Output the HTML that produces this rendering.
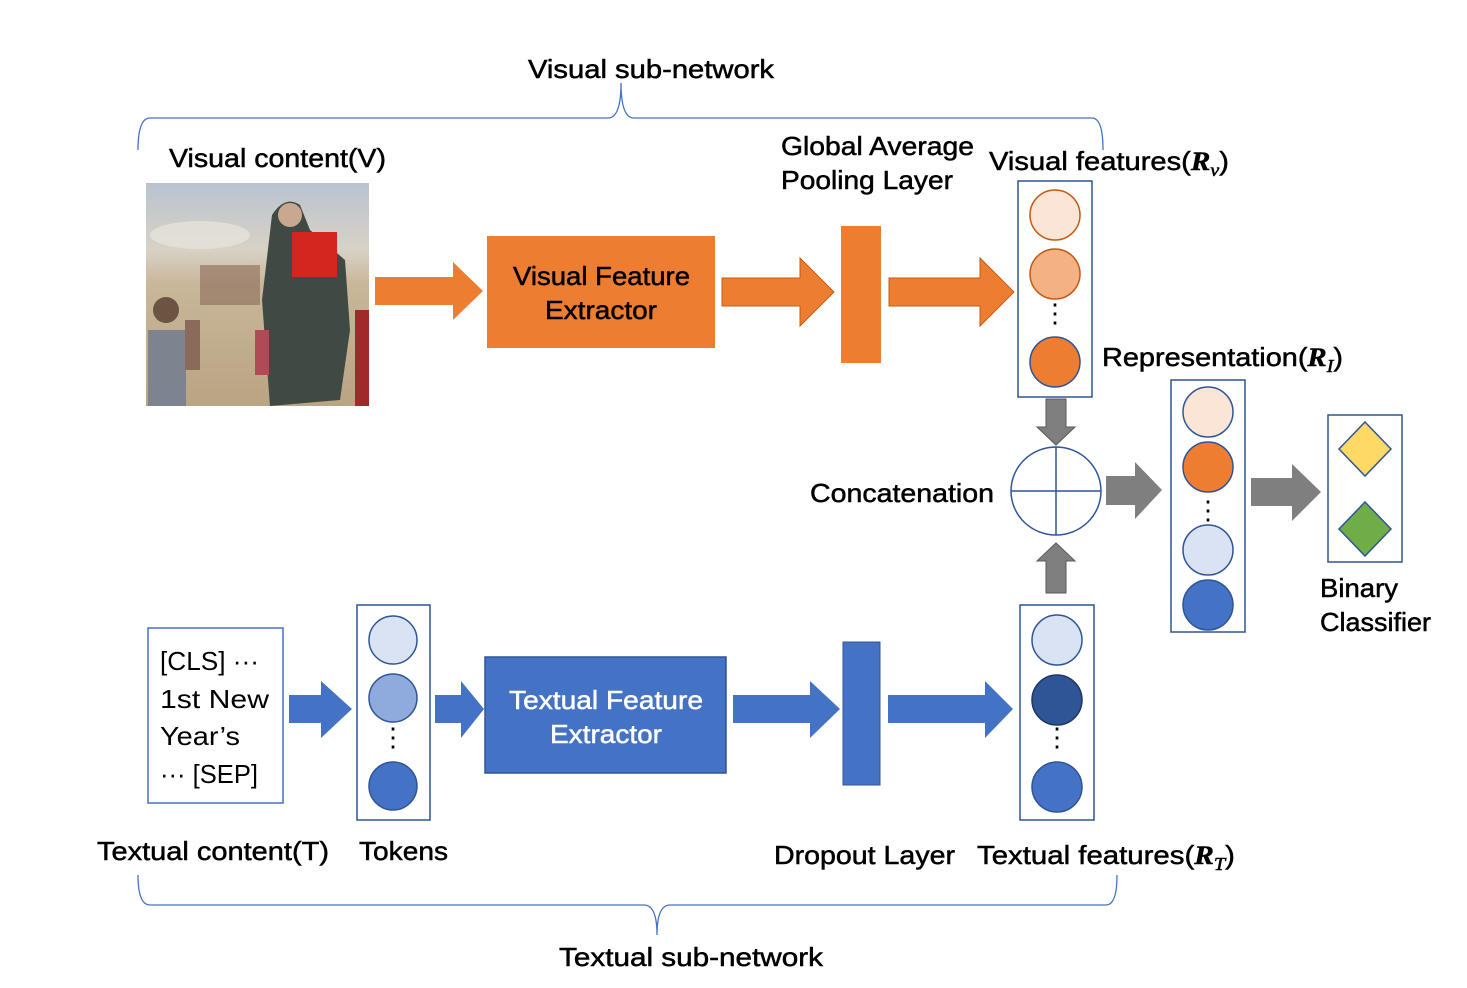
<!DOCTYPE html>
<html><head><meta charset="utf-8"><style>
html,body{margin:0;padding:0;background:#fff;}
svg{display:block;}
text{font-family:"Liberation Sans","Noto Sans CJK SC",sans-serif;font-size:26px;fill:#000;stroke:#000;stroke-width:0.5px;}
.n{stroke:none;}
</style></head><body>
<svg width="1467" height="988" viewBox="0 0 1467 988" xmlns="http://www.w3.org/2000/svg">
<defs>
<linearGradient id="sky" x1="0" y1="0" x2="0" y2="1">
<stop offset="0" stop-color="#b9c3cf"/><stop offset="0.3" stop-color="#d8d2c6"/><stop offset="0.45" stop-color="#c9b79a"/><stop offset="1" stop-color="#b9a483"/>
</linearGradient>
</defs>
<path d="M138,150 Q138,118 150,118 L608,118 Q621,118 621,83 Q621,118 634,118 L1092,118 Q1103,118 1103,150" fill="none" stroke="#4472C4" stroke-width="1.3"/>
<path d="M138,875 Q138,905 150,905 L644,905 Q657,905 657,935 Q657,905 670,905 L1106,905 Q1117,905 1117,875" fill="none" stroke="#4472C4" stroke-width="1.3"/>
<text x="528" y="78" textLength="246" lengthAdjust="spacingAndGlyphs">Visual sub-network</text>
<text x="559" y="966" textLength="264" lengthAdjust="spacingAndGlyphs">Textual sub-network</text>

<text x="169" y="167" textLength="217" lengthAdjust="spacingAndGlyphs">Visual content(V)</text>
<rect x="146" y="183" width="223" height="223" fill="url(#sky)"/>
<ellipse cx="200" cy="235" rx="50" ry="14" fill="#e6e2da" opacity="0.8"/>
<rect x="200" y="265" width="60" height="40" fill="#8a6a5a" opacity="0.6"/>
<path d="M272,215 Q285,195 300,205 L310,230 L345,260 L350,330 L340,400 L270,406 L262,300 Z" fill="#3f4a44"/>
<rect x="292" y="232" width="45" height="45" fill="#d4261f"/>
<circle cx="290" cy="215" r="12" fill="#c9a890"/>
<rect x="148" y="330" width="38" height="76" fill="#7d8490"/>
<circle cx="166" cy="310" r="13" fill="#6b5442"/>
<rect x="355" y="310" width="14" height="96" fill="#9e2a2a"/>
<rect x="255" y="330" width="14" height="45" fill="#b04a55"/>
<rect x="185" y="320" width="15" height="50" fill="#8a6a5a"/>

<polygon points="375,277 453,277 453,262 483,291 453,320 453,305 375,305" fill="#ED7D31"/>
<rect x="487" y="236" width="228" height="112" fill="#ED7D31"/>
<text x="513" y="285" textLength="177" lengthAdjust="spacingAndGlyphs">Visual Feature</text>
<text x="545" y="319" textLength="112" lengthAdjust="spacingAndGlyphs">Extractor</text>
<polygon points="722,278 800,278 800,258 834,292 800,326 800,306 722,306" fill="#ED7D31" stroke="#C55A11" stroke-width="1"/>
<rect x="841" y="226" width="40" height="137" fill="#ED7D31"/>
<text x="781" y="155" textLength="193" lengthAdjust="spacingAndGlyphs">Global Average</text>
<text x="781" y="189" textLength="172" lengthAdjust="spacingAndGlyphs">Pooling Layer</text>
<polygon points="889,278 980,278 980,258 1014,292 980,326 980,306 889,306" fill="#ED7D31" stroke="#C55A11" stroke-width="1"/>

<text x="989" y="170" font-size="28" textLength="240" lengthAdjust="spacingAndGlyphs">Visual features(<tspan font-family="Liberation Serif" font-style="italic" font-weight="bold">R</tspan><tspan font-family="Liberation Serif" font-style="italic" font-size="18" dy="6">v</tspan><tspan dy="-6">)</tspan></text>
<rect x="1018" y="181" width="74" height="216" fill="#fff" stroke="#2F5597" stroke-width="1.5"/>
<circle cx="1055" cy="215" r="25" fill="#FBE5D6" stroke="#C55A11" stroke-width="1.5"/>
<circle cx="1055" cy="274" r="25" fill="#F4B183" stroke="#C55A11" stroke-width="1.5"/>
<text class="n" x="1055" y="322" text-anchor="middle" font-size="18">⋮</text>
<circle cx="1055" cy="362" r="25" fill="#ED7D31" stroke="#2F5597" stroke-width="1.5"/>

<polygon points="1046,399 1066,399 1066,427 1075,427 1056,445 1037,427 1046,427" fill="#7F7F7F" stroke="#595959" stroke-width="1"/>
<ellipse cx="1056" cy="491" rx="45" ry="44" fill="#fff" stroke="#2F5597" stroke-width="1.5"/>
<line x1="1011" y1="491" x2="1101" y2="491" stroke="#2F5597" stroke-width="1.5"/>
<line x1="1056" y1="447" x2="1056" y2="535" stroke="#2F5597" stroke-width="1.5"/>
<polygon points="1046,593 1066,593 1066,561 1075,561 1056,543 1037,561 1046,561" fill="#7F7F7F" stroke="#595959" stroke-width="1"/>
<text x="810" y="502" textLength="184" lengthAdjust="spacingAndGlyphs">Concatenation</text>
<polygon points="1106,476 1135,476 1135,462 1162,490 1135,519 1135,505 1106,505" fill="#7F7F7F"/>

<text x="1102" y="366" font-size="28" textLength="241" lengthAdjust="spacingAndGlyphs">Representation(<tspan font-family="Liberation Serif" font-style="italic" font-weight="bold">R</tspan><tspan font-family="Liberation Serif" font-style="italic" font-size="18" dy="6">I</tspan><tspan dy="-6">)</tspan></text>
<rect x="1171" y="380" width="74" height="252" fill="#fff" stroke="#2F5597" stroke-width="1.5"/>
<circle cx="1208" cy="412" r="25" fill="#FBE5D6" stroke="#2F5597" stroke-width="1.5"/>
<circle cx="1208" cy="467" r="25" fill="#ED7D31" stroke="#2F5597" stroke-width="1.5"/>
<text class="n" x="1208" y="519" text-anchor="middle" font-size="18">⋮</text>
<circle cx="1208" cy="550" r="25" fill="#DAE3F3" stroke="#2F5597" stroke-width="1.5"/>
<circle cx="1208" cy="605" r="25" fill="#4472C4" stroke="#2F5597" stroke-width="1.5"/>
<polygon points="1251,478 1292,478 1292,464 1321,492 1292,521 1292,506 1251,506" fill="#7F7F7F"/>
<rect x="1328" y="415" width="74" height="147" fill="#fff" stroke="#2F5597" stroke-width="1.5"/>
<polygon points="1365,422 1391,449 1365,476 1339,449" fill="#FFD966" stroke="#2F5597" stroke-width="1.5"/>
<polygon points="1365,502 1391,529 1365,556 1339,529" fill="#70AD47" stroke="#2F5597" stroke-width="1.5"/>
<text x="1320" y="597" textLength="78" lengthAdjust="spacingAndGlyphs">Binary</text>
<text x="1320" y="631" textLength="111" lengthAdjust="spacingAndGlyphs">Classifier</text>

<rect x="148" y="628" width="135" height="175" fill="#fff" stroke="#4472C4" stroke-width="1.5"/>
<text class="n" x="160" y="670" font-size="29" textLength="99" lengthAdjust="spacingAndGlyphs">[CLS] ···</text>
<text class="n" x="160" y="708" font-size="29" textLength="109" lengthAdjust="spacingAndGlyphs">1st New</text>
<text class="n" x="160" y="745" font-size="29" textLength="80" lengthAdjust="spacingAndGlyphs">Year’s</text>
<text class="n" x="160" y="783" font-size="29" textLength="98" lengthAdjust="spacingAndGlyphs">··· [SEP]</text>
<polygon points="289,695 321,695 321,681 352,709 321,738 321,723 289,723" fill="#4472C4"/>
<rect x="357" y="605" width="73" height="215" fill="#fff" stroke="#2F5597" stroke-width="1.5"/>
<circle cx="393" cy="640" r="24" fill="#DAE3F3" stroke="#2F5597" stroke-width="1.5"/>
<circle cx="393" cy="698" r="24" fill="#8FAADC" stroke="#2F5597" stroke-width="1.5"/>
<text class="n" x="393" y="746" text-anchor="middle" font-size="18">⋮</text>
<circle cx="393" cy="786" r="24" fill="#4472C4" stroke="#2F5597" stroke-width="1.5"/>
<polygon points="435,695 461,695 461,681 484,709 461,738 461,723 435,723" fill="#4472C4"/>
<rect x="485" y="657" width="241" height="116" fill="#4472C4" stroke="#2F5597" stroke-width="1.5"/>
<text x="509" y="709" textLength="194" lengthAdjust="spacingAndGlyphs" style="fill:#fff;stroke:#fff">Textual Feature</text>
<text x="550" y="743" textLength="112" lengthAdjust="spacingAndGlyphs" style="fill:#fff;stroke:#fff">Extractor</text>
<polygon points="733,695 810,695 810,681 840,709 810,738 810,723 733,723" fill="#4472C4"/>
<rect x="843" y="642" width="37" height="143" fill="#4472C4" stroke="#2F5597" stroke-width="1"/>
<polygon points="888,695 985,695 985,681 1013,709 985,738 985,723 888,723" fill="#4472C4"/>
<rect x="1020" y="605" width="74" height="215" fill="#fff" stroke="#2F5597" stroke-width="1.5"/>
<circle cx="1057" cy="640" r="25" fill="#DAE3F3" stroke="#2F5597" stroke-width="1.5"/>
<circle cx="1057" cy="700" r="25" fill="#2F5597" stroke="#1F3864" stroke-width="1.5"/>
<text class="n" x="1057" y="746" text-anchor="middle" font-size="18">⋮</text>
<circle cx="1057" cy="787" r="25" fill="#4472C4" stroke="#2F5597" stroke-width="1.5"/>

<text x="97" y="860" textLength="232" lengthAdjust="spacingAndGlyphs">Textual content(T)</text>
<text x="359" y="860" textLength="89" lengthAdjust="spacingAndGlyphs">Tokens</text>
<text x="774" y="864" textLength="181" lengthAdjust="spacingAndGlyphs">Dropout Layer</text>
<text x="977" y="864" font-size="28" textLength="258" lengthAdjust="spacingAndGlyphs">Textual features(<tspan font-family="Liberation Serif" font-style="italic" font-weight="bold">R</tspan><tspan font-family="Liberation Serif" font-style="italic" font-size="18" dy="6">T</tspan><tspan dy="-6">)</tspan></text>
</svg>
</body></html>
